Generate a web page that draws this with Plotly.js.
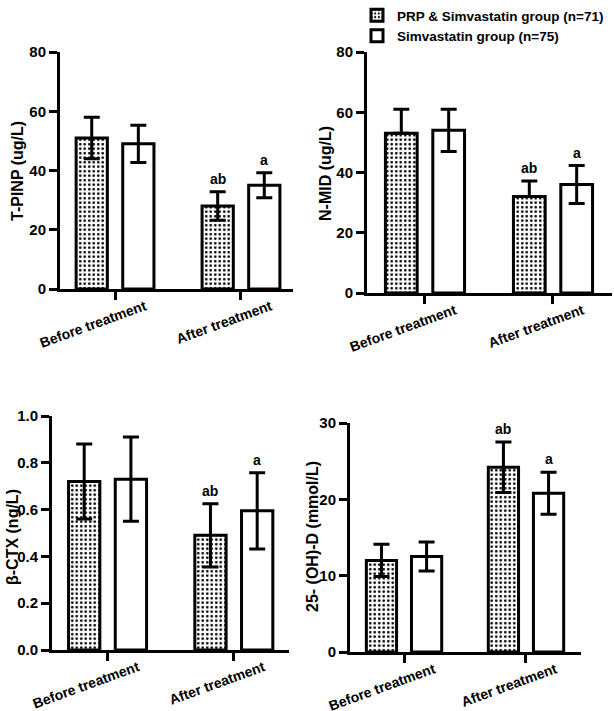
<!DOCTYPE html>
<html>
<head>
<meta charset="utf-8">
<script src="https://cdn.plot.ly/plotly-3.0.1.min.js"></script>
<style>
  html, body { margin: 0; padding: 0; background: #fff; }
  #chart { width: 614px; height: 711px; }
</style>
</head>
<body>
<div id="chart"></div>
<script>
// Groups and time points
const categories = ['Before treatment', 'After treatment'];
const groupNames = ['PRP & Simvastatin group (n=71)', 'Simvastatin group (n=75)'];

// T-PINP (ug/L): mean and SD
const tpinpPRP = [51, 28];
const tpinpPRPsd = [7, 4.8];
const tpinpSim = [49, 35];
const tpinpSimSd = [6.3, 4.2];

// N-MID (ug/L)
const nmidPRP = [53, 32];
const nmidPRPsd = [8, 5.2];
const nmidPRPsdLow = [0, 0];
const nmidSim = [54, 36];
const nmidSimSd = [7, 6.3];

// beta-CTX (ng/L)
const ctxPRP = [0.72, 0.49];
const ctxPRPsd = [0.16, 0.135];
const ctxSim = [0.73, 0.595];
const ctxSimSd = [0.18, 0.163];

// 25-(OH)-D (mmol/L)
const ohdPRP = [12, 24.2];
const ohdPRPsd = [2.1, 3.3];
const ohdSim = [12.5, 20.8];
const ohdSimSd = [1.9, 2.75];

// Significance letters shown above the post-treatment bars
const sigPRP = ['', 'ab'];
const sigSim = ['', 'a'];

const FONT = 'Liberation Sans, Arial, Helvetica, sans-serif';
const BARGAP = 0.26;
const BARGROUPGAP = 0.33;

function errBar(plus, minus) {
  return {
    type: 'data', symmetric: false,
    array: plus, arrayminus: minus || plus,
    color: '#000', thickness: 3, width: 8
  };
}

function axisIds(n) {
  return n === 1 ? ['x', 'y'] : ['x' + n, 'y' + n];
}

function panelTraces(n, prp, prpSd, sim, simSd, prpSdLow) {
  const [xa, ya] = axisIds(n);
  return [
    {
      type: 'bar', name: groupNames[0], x: categories, y: prp,
      xaxis: xa, yaxis: ya, showlegend: n === 1, legendrank: 1,
      marker: {
        color: '#fff',
        line: { color: '#000', width: 3 },
        pattern: { shape: '.', fgcolor: '#000', bgcolor: '#fff', size: 4.5, solidity: 0.28, fillmode: 'replace' }
      },
      error_y: errBar(prpSd, prpSdLow),
      hoverinfo: 'skip'
    },
    {
      type: 'bar', name: groupNames[1], x: categories, y: sim,
      xaxis: xa, yaxis: ya, showlegend: n === 1, legendrank: 2,
      marker: { color: '#fff', line: { color: '#000', width: 3 } },
      error_y: errBar(simSd),
      hoverinfo: 'skip'
    }
  ];
}

// Letters sit just above the upper error cap of each bar
function sigAnnotations(n, prp, prpSd, sim, simSd) {
  const [xr, yr] = axisIds(n);
  const half = (1 - BARGAP) / 4;
  const out = [];
  categories.forEach((c, i) => {
    if (sigPRP[i]) out.push({ xref: xr, yref: yr, x: i - half, y: prp[i] + prpSd[i], text: sigPRP[i] });
    if (sigSim[i]) out.push({ xref: xr, yref: yr, x: i + half, y: sim[i] + simSd[i], text: sigSim[i] });
  });
  return out.map(a => Object.assign(a, {
    showarrow: false, yanchor: 'bottom', yshift: 3,
    font: { family: FONT, size: 14, color: '#000', weight: 700 }
  }));
}

// Slanted category names hanging below each tick, upper-right corner near the tick
function categoryLabels(n) {
  const [xr, yr] = axisIds(n);
  return categories.map(c => ({
    xref: xr, yref: yr, x: c, y: 0, text: c,
    xanchor: 'right', yanchor: 'top', xshift: 36, yshift: -6,
    textangle: -20, showarrow: false,
    font: { family: FONT, size: 14, color: '#000', weight: 700 }
  }));
}

const W = 614, H = 711;
function xdom(l, r) { return [l / W, r / W]; }
function ydom(t, b) { return [1 - b / H, 1 - t / H]; }

const tickFont = { family: FONT, size: 15, color: '#000', weight: 700 };

function xAxis(domain, range, anchor) {
  return {
    domain, range, anchor, type: 'category',
    showline: true, linecolor: '#000', linewidth: 3,
    ticks: 'outside', ticklen: 8, tickwidth: 3, tickcolor: '#000',
    showticklabels: false,
    showgrid: false, zeroline: false, fixedrange: true
  };
}
function yAxis(domain, range, dtick, anchor, fmt) {
  return {
    domain, range, anchor, dtick, tickformat: fmt || '',
    showline: true, linecolor: '#000', linewidth: 3,
    ticks: 'outside', ticklen: 8, tickwidth: 3, tickcolor: '#000',
    tickfont: tickFont,
    showgrid: false, zeroline: false, fixedrange: true
  };
}

function yTitle(text, cx, cy) {
  return {
    xref: 'paper', yref: 'paper', x: cx / W, y: 1 - cy / H,
    xanchor: 'center', yanchor: 'middle', textangle: -90, showarrow: false,
    text, font: { family: FONT, size: 16, color: '#000', weight: 700 }
  };
}

const data = [].concat(
  panelTraces(1, tpinpPRP, tpinpPRPsd, tpinpSim, tpinpSimSd),
  panelTraces(2, nmidPRP, nmidPRPsd, nmidSim, nmidSimSd, nmidPRPsdLow),
  panelTraces(3, ctxPRP, ctxPRPsd, ctxSim, ctxSimSd),
  panelTraces(4, ohdPRP, ohdPRPsd, ohdSim, ohdSimSd)
);

const annotations = [].concat(
  sigAnnotations(1, tpinpPRP, tpinpPRPsd, tpinpSim, tpinpSimSd),
  sigAnnotations(2, nmidPRP, nmidPRPsd, nmidSim, nmidSimSd),
  sigAnnotations(3, ctxPRP, ctxPRPsd, ctxSim, ctxSimSd),
  sigAnnotations(4, ohdPRP, ohdPRPsd, ohdSim, ohdSimSd),
  categoryLabels(1), categoryLabels(2), categoryLabels(3), categoryLabels(4),
  [
    yTitle('T-PINP (ug/L)', 18, 171),
    yTitle('N-MID (ug/L)', 325, 174),
    yTitle('β-CTX (ng/L)', 12, 537),
    yTitle('25- (OH)-D (mmol/L)', 312, 537)
  ]
);

const layout = {
  width: W, height: H,
  margin: { l: 0, r: 0, t: 0, b: 0 },
  paper_bgcolor: '#fff', plot_bgcolor: '#fff',
  barmode: 'group', bargap: BARGAP, bargroupgap: BARGROUPGAP,
  font: { family: FONT, color: '#000' },
  showlegend: true,
  legend: {
    x: 357 / W, y: 1, xanchor: 'left', yanchor: 'top',
    bgcolor: 'rgba(0,0,0,0)', borderwidth: 0, tracegroupgap: 0,
    font: { family: FONT, size: 13.5, color: '#000', weight: 700 }
  },
  xaxis:  xAxis(xdom(60, 293),  [-0.437, 1.413], 'y'),
  yaxis:  yAxis(ydom(52, 289),  [0, 80], 20, 'x'),
  xaxis2: xAxis(xdom(367, 612), [-0.453, 1.461], 'y2'),
  yaxis2: yAxis(ydom(52, 293),  [0, 80], 20, 'x2'),
  xaxis3: xAxis(xdom(52, 289),  [-0.44, 1.437], 'y3'),
  yaxis3: yAxis(ydom(416, 650), [0, 1.0], 0.2, 'x3', '.1f'),
  xaxis4: xAxis(xdom(350, 581), [-0.443, 1.451], 'y4'),
  yaxis4: yAxis(ydom(423, 652), [0, 30], 10, 'x4'),
  annotations
};

Plotly.newPlot('chart', data, layout, { staticPlot: true, displayModeBar: false });
</script>
</body>
</html>
